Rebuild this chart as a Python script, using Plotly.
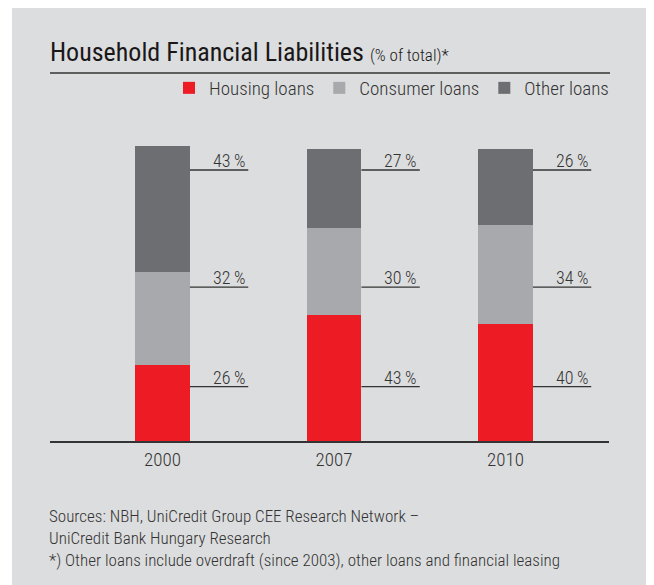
import plotly.graph_objects as go

# ---- data ----
years = ["2000", "2007", "2010"]
housing = [26, 43, 40]
consumer = [32, 30, 34]
other = [43, 27, 26]
series_names = ["Housing loans", "Consumer loans", "Other loans"]
series_colors = ["#ED1C24", "#A7A9AC", "#6D6E71"]

title_main = "Household Financial Liabilities"
title_sub = "(% of total)*"
footnote = ("Sources: NBH, UniCredit Group CEE Research Network –<br>"
            "UniCredit Bank Hungary Research<br>"
            "*) Other loans include overdraft (since 2003), other loans and financial leasing")

# ---- layout helpers ----
OFF = 8                     # page body margin
W, H = 654 - OFF, 585 - OFF
FONT = "Roboto Condensed, Liberation Sans Narrow, DejaVu Sans Condensed, sans-serif"
TXT = "#333333"
BG = "#DCDDDE"

def px(x):
    return (x - OFF) / W

def py(y):
    return 1 - (y - OFF) / H

# fixed label heights (axis units) for the three label rows
LABEL_Y = [18.6, 52.7, 92.8]
BAR_W = 0.32

fig = go.Figure()
for name, vals, col in zip(series_names, [housing, consumer, other], series_colors):
    fig.add_trace(go.Bar(x=years, y=vals, name=name, marker=dict(color=col, line=dict(width=0)),
                         width=BAR_W, hoverinfo="skip"))

shapes = [
    dict(type="rect", xref="paper", yref="paper", x0=-0.01, x1=px(12), y0=-0.01, y1=1.01,
         fillcolor="white", line=dict(width=0), layer="below"),
    dict(type="line", xref="paper", yref="paper", x0=px(50), x1=px(610), y0=py(73), y1=py(73),
         line=dict(color=TXT, width=1.5)),
]
annotations = []
for i in range(len(years)):
    for j, vals in enumerate([housing, consumer, other]):
        shapes.append(dict(type="line", xref="x", yref="y", x0=i + BAR_W / 2, x1=i + 0.5,
                           y0=LABEL_Y[j], y1=LABEL_Y[j], line=dict(color=TXT, width=1.3)))
        annotations.append(dict(xref="x", yref="y", x=i + 0.49, y=LABEL_Y[j],
                                text=f"{vals[i]}\u2009%", showarrow=False,
                                xanchor="right", yanchor="bottom", yshift=-3,
                                font=dict(family=FONT, size=18, color=TXT, weight=300)))

annotations.append(dict(xref="paper", yref="paper", x=px(48), y=py(52),
                        xanchor="left", yanchor="middle", showarrow=False,
                        text=f"{title_main} <span style='font-size:17px;font-weight:300'>{title_sub}</span>",
                        font=dict(family=FONT, size=26, color="#1A1718", weight=400)))
annotations.append(dict(xref="paper", yref="paper", x=px(47), y=py(504),
                        xanchor="left", yanchor="top", showarrow=False, align="left",
                        text=footnote, font=dict(family=FONT, size=17, color=TXT, weight=300)))

# x positions: bar centres at 162.5 / 334 / 505.5 px
x_lo = 1 + (50 - 334) / 171.5
x_hi = 1 + (609 - 334) / 171.5
y_bot, y_top = 441, 140
y_range_top = (y_bot - y_top) / 2.92

fig.update_layout(
    width=W, height=H,
    margin=dict(l=0, r=0, t=0, b=0),
    paper_bgcolor=BG, plot_bgcolor=BG,
    barmode="stack", bargap=0,
    showlegend=True,
    legend=dict(orientation="h", x=px(614), xanchor="right", y=py(88), yanchor="middle",
                traceorder="normal", font=dict(family=FONT, size=19, color=TXT, weight=300),
                bgcolor="rgba(0,0,0,0)", itemclick=False, itemdoubleclick=False),
    xaxis=dict(domain=[px(50), px(609)], range=[x_lo, x_hi], type="category",
               showline=True, linecolor=TXT, linewidth=1.5, showgrid=False, zeroline=False,
               ticks="", tickfont=dict(family=FONT, size=19, color=TXT, weight=300), fixedrange=True),
    yaxis=dict(domain=[py(y_bot), py(y_top)], range=[0, y_range_top], visible=False,
               showgrid=False, zeroline=False, fixedrange=True),
    shapes=shapes, annotations=annotations,
)

fig.write_html("out.html")
